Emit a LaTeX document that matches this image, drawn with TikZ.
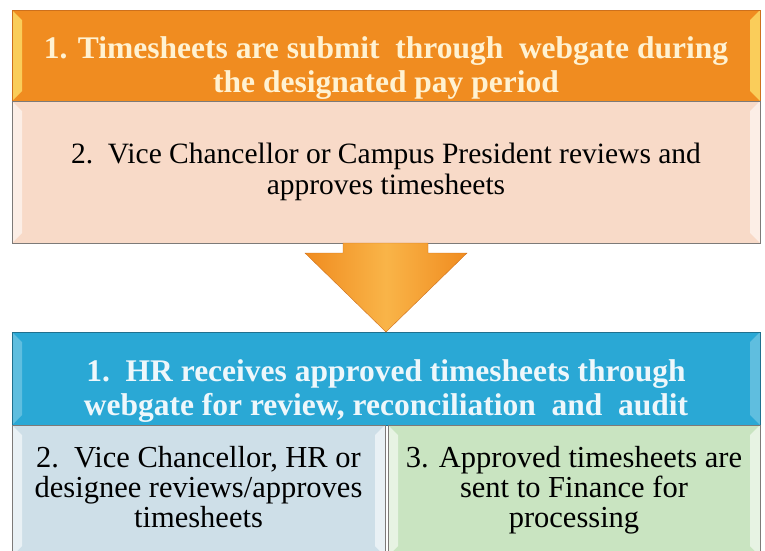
\documentclass[tikz,border=0pt]{standalone}
\usepackage{fontspec}
\setmainfont{Liberation Serif}
\usetikzlibrary{positioning,calc}

\definecolor{orangeFill}{RGB}{240,140,32}
\definecolor{orangeLine}{RGB}{205,112,28}
\definecolor{orangeLight}{RGB}{250,205,90}
\definecolor{creamText}{RGB}{255,242,210}
\definecolor{peachFill}{RGB}{248,218,200}
\definecolor{blueFill}{RGB}{42,168,213}
\definecolor{blueLine}{RGB}{32,112,142}
\definecolor{blueText}{RGB}{238,247,251}
\definecolor{mistFill}{RGB}{206,223,232}
\definecolor{sageFill}{RGB}{201,228,193}
\definecolor{frameGray}{RGB}{125,122,120}
\definecolor{arrowLight}{RGB}{249,180,72}

\begin{document}
\begin{tikzpicture}[x=1pt, y=1pt, node distance=0pt]
    % Styles
    \tikzset{bevel/.style={path picture={
        \fill[#1] (path picture bounding box.north west) -- ++(10,-10)
            -- ($(path picture bounding box.south west)+(10,10)$) -- (path picture bounding box.south west) -- cycle;
        \fill[#1] (path picture bounding box.north east) -- ++(-10,-10)
            -- ($(path picture bounding box.south east)+(-10,10)$) -- (path picture bounding box.south east) -- cycle;}}}
    \tikzstyle{box} = [rectangle, inner sep=0pt, outer sep=0pt, align=center, line width=0.8pt]
    \tikzstyle{headbox} = [box, minimum width=748pt, font=\rmfamily\fontsize{31.5}{34}\selectfont\bfseries]
    \tikzstyle{bodybox} = [box, minimum width=748pt, font=\rmfamily\fontsize{29.5}{31}\selectfont, draw=frameGray, fill=peachFill, bevel=white!55!peachFill]
    \tikzstyle{lowbox} = [box, font=\rmfamily\fontsize{30.5}{30}\selectfont, draw=frameGray, text height=102pt, text depth=29pt]

    \useasboundingbox (0,0) rectangle (765,-550);

    % Nodes
    \node (submit) [headbox, anchor=north, fill=orangeFill, draw=orangeLine, text=creamText, bevel=orangeLight,
        text height=82pt, text depth=9pt] at (386,-10)
        {1. Timesheets are submit\ \ through\ \ webgate during\\the designated pay period};
    \node (review) [bodybox, below=of submit, text height=93pt, text depth=49pt]
        {2.\ \ Vice Chancellor or Campus President reviews and\\approves timesheets};
    \node (receive) [headbox, anchor=north, fill=blueFill, draw=blueLine, text=blueText, bevel=white!25!blueFill,
        text height=83pt, text depth=10pt] at (386,-332)
        {1.\ \ HR receives approved timesheets through\\webgate for review, reconciliation\ \ and\ \ audit};
    \node (approve) [lowbox, anchor=north west, minimum width=373pt, fill=mistFill, bevel=white!55!mistFill] at (receive.south west)
        {2.\ \ Vice Chancellor, HR or\\designee reviews/approves\\timesheets};
    \node (finance) [lowbox, anchor=north east, minimum width=372pt, fill=sageFill, bevel=white!55!sageFill] at (receive.south east)
        {3. Approved timesheets are\\sent to Finance for\\processing};

    % Arrows
    \shade [left color=orangeFill, right color=orangeFill, middle color=arrowLight, draw=orangeLine]
        ($(review.south)+(-43,0)$) -- ++(0,-10) -- ++(-38,0) -- (receive.north)
        -- ($(review.south)+(81,-10)$) -- ++(-39,0) -- ($(review.south)+(42,0)$) -- cycle;
\end{tikzpicture}
\end{document}
